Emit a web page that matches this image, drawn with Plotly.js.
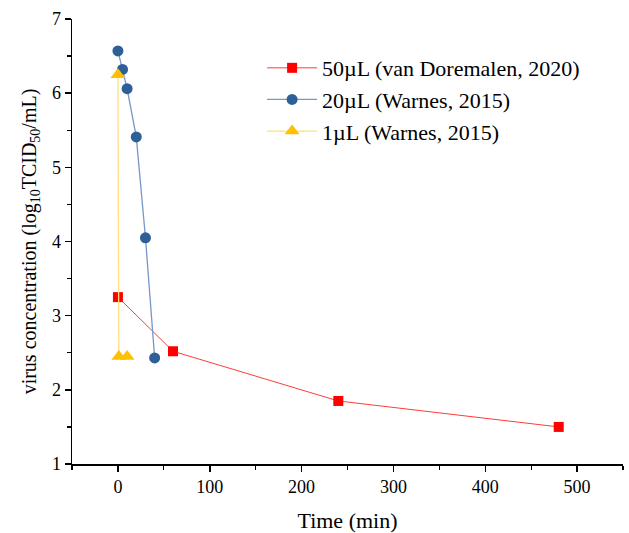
<!DOCTYPE html>
<html>
<head>
<meta charset="utf-8">
<script src="https://cdn.plot.ly/plotly-3.0.1.min.js"></script>
<style>html,body{margin:0;padding:0;background:#fff;}#chart{width:629px;height:533px;}</style>
</head>
<body>
<div id="chart"></div>
<script>
// Data
const names = ["50\u00b5L (van Doremalen, 2020)", "20\u00b5L (Warnes, 2015)", "1\u00b5L (Warnes, 2015)"];
const time50 = [0, 60, 240, 480];
const conc50 = [3.25, 2.52, 1.85, 1.5];
const time20 = [0, 5, 10, 20, 30, 40];
const conc20 = [6.57, 6.32, 6.06, 5.41, 4.05, 2.43];
const time1 = [0, 1, 10];
const conc1 = [6.25, 2.45, 2.45];
const xTicks = [0, 100, 200, 300, 400, 500];
const yTicks = [1, 2, 3, 4, 5, 6, 7];

const font = "Liberation Serif, Times New Roman, serif";

const traces = [
  {x: time50, y: conc50, name: names[0], mode: "lines+markers", type: "scatter",
   line: {color: "#ff3b3b", width: 1},
   marker: {symbol: "square", size: 10, color: "#ff0000"}},
  {x: time20, y: conc20, name: names[1], mode: "lines+markers", type: "scatter",
   line: {color: "#7896c8", width: 1.3},
   marker: {symbol: "circle", size: 11, color: "#2f5f97"}},
  {x: time1, y: conc1, name: names[2], mode: "lines+markers", type: "scatter",
   line: {color: "#ffdf80", width: 1.3},
   marker: {symbol: "triangle-up", size: 13, color: "#ffc000"}}
];

const layout = {
  width: 629, height: 533,
  margin: {l: 72, r: 6, t: 19, b: 69},
  paper_bgcolor: "#ffffff", plot_bgcolor: "#ffffff",
  font: {family: font, color: "#000", size: 18},
  showlegend: true,
  legend: {x: 0.345, y: 0.937, xanchor: "left", yanchor: "top",
    bgcolor: "rgba(0,0,0,0)", font: {family: font, size: 22, color: "#000"},
    tracegroupgap: 0, itemwidth: 50},
  xaxis: {
    range: [-50, 550], tickvals: xTicks, ticktext: xTicks.map(String),
    showgrid: false, zeroline: false, showline: true, linecolor: "#000", linewidth: 1.5,
    ticks: "outside", ticklen: 6, tickwidth: 1.5, tickcolor: "#000",
    minor: {dtick: 50, tick0: 50, ticks: "outside", ticklen: 4, tickwidth: 1.2, tickcolor: "#000", showgrid: false},
    tickfont: {family: font, size: 18, color: "#000"},
    title: {text: "Time (min)", font: {family: font, size: 22, color: "#000"}, standoff: 16}
  },
  yaxis: {
    range: [1, 7], tickvals: yTicks, ticktext: yTicks.map(String),
    showgrid: false, zeroline: false, showline: true, linecolor: "#000", linewidth: 1.5,
    ticks: "outside", ticklen: 6, tickwidth: 1.5, tickcolor: "#000",
    minor: {dtick: 0.5, tick0: 1.5, ticks: "outside", ticklen: 4, tickwidth: 1.2, tickcolor: "#000", showgrid: false},
    tickfont: {family: font, size: 18, color: "#000"},
    title: {text: "virus concentration (log<sub>10</sub>TCID<sub>50</sub>/mL)", font: {family: font, size: 20, color: "#000"}, standoff: 10}
  }
};

Plotly.newPlot("chart", traces, layout, {displayModeBar: false, staticPlot: true});
</script>
</body>
</html>
